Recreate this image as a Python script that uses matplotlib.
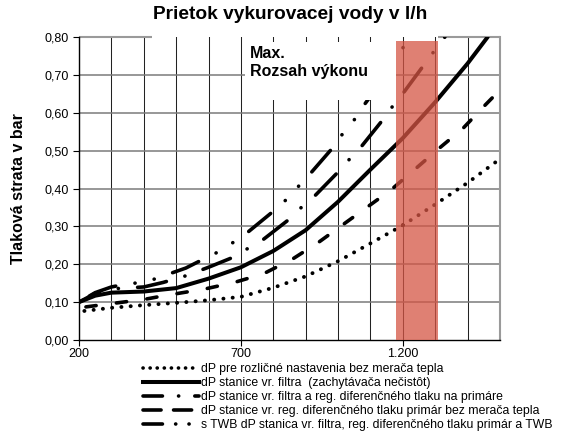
import numpy as np
import matplotlib
matplotlib.use('Agg')
import matplotlib.pyplot as plt
from matplotlib.lines import Line2D
from matplotlib.patches import Rectangle
from matplotlib.ticker import FuncFormatter, MultipleLocator

plt.rcParams['font.family'] = ['Liberation Sans', 'DejaVu Sans']
plt.rcParams['lines.scale_dashes'] = False

# flow (l/h) and pressure loss (bar) for each station variant
flow_meter = [200, 250, 300, 400, 500, 600, 700, 800, 900, 1000, 1100, 1200, 1300, 1400, 1500]
dp_meter = [0.075, 0.080, 0.085, 0.092, 0.098, 0.105, 0.114, 0.138, 0.168, 0.208, 0.255, 0.303, 0.358, 0.415, 0.478]

flow_filter = [200, 250, 300, 400, 500, 600, 700, 800, 900, 1000, 1100, 1200, 1300, 1400, 1462]
dp_filter = [0.100, 0.117, 0.125, 0.128, 0.137, 0.162, 0.192, 0.235, 0.290, 0.365, 0.450, 0.533, 0.628, 0.730, 0.800]

flow_filter_reg = [200, 250, 300, 400, 460, 528, 600, 675, 722, 770, 848, 889, 931, 1003, 1037,
                   1075, 1137, 1171, 1204, 1266, 1297, 1330]
dp_filter_reg = [0.100, 0.123, 0.135, 0.140, 0.152, 0.169, 0.192, 0.218, 0.242, 0.266, 0.318, 0.352, 0.383,
                 0.446, 0.479, 0.514, 0.580, 0.620, 0.655, 0.727, 0.763, 0.800]

flow_reg = [200, 290, 400, 470, 585, 680, 770, 860, 940, 1040, 1100, 1163, 1235, 1312, 1385, 1454, 1500]
dp_reg = [0.085, 0.095, 0.107, 0.118, 0.134, 0.152, 0.175, 0.214, 0.258, 0.320, 0.357, 0.396, 0.449, 0.506,
          0.558, 0.620, 0.660]

flow_twb = [200, 250, 300, 330, 380, 430, 480, 530, 574, 626, 675, 719, 796, 838, 877, 915, 982,
            1013, 1049, 1080, 1140, 1199, 1225]
dp_twb = [0.100, 0.125, 0.140, 0.145, 0.151, 0.160, 0.175, 0.190, 0.209, 0.231, 0.257, 0.283, 0.337,
          0.369, 0.405, 0.440, 0.506, 0.543, 0.580, 0.620, 0.690, 0.770, 0.800]

labels = [
    'dP pre rozličné nastavenia bez merača tepla',
    'dP stanice vr. filtra  (zachytávača nečistôt)',
    'dP stanice vr. filtra a reg. diferenčného tlaku na primáre',
    'dP stanice vr. reg. diferenčného tlaku primár bez merača tepla',
    's TWB dP stanica vr. filtra, reg. diferenčného tlaku primár a TWB',
]

x_ticks = [200, 700, 1200]
x_tick_labels = ['200', '700', '1.200']
range_start, range_end, range_top = 1180, 1310, 0.79

fig = plt.figure(figsize=(5.63, 4.33), dpi=100)
ax = fig.add_axes([0.1403, 0.2148, 0.7477, 0.6997])
ax.set_xlim(200, 1500)
ax.set_ylim(0, 0.8)


def phased(xs, ys, seq, anchor):
    # shift the dash pattern so that a period begins at flow == anchor
    pts = ax.transData.transform(np.column_stack([xs, ys])) * 72.0 / fig.dpi
    seg = np.hypot(*np.diff(pts, axis=0).T)
    length = 0.0
    for i in range(len(xs) - 1):
        if xs[i + 1] >= anchor:
            length += seg[i] * (anchor - xs[i]) / (xs[i + 1] - xs[i])
            break
        length += seg[i]
    return ((-length) % sum(seq), seq)


lw = 2.6
ax.plot(flow_meter, dp_meter, color='black', lw=2.8,
        linestyle=phased(flow_meter, dp_meter, (0.1, 6.6), 1200),
        dash_capstyle='round', zorder=3)
ax.plot(flow_filter, dp_filter, color='black', lw=2.9, solid_capstyle='round', zorder=3)
ax.plot(flow_filter_reg, dp_filter_reg, color='black', lw=lw,
        linestyle=phased(flow_filter_reg, dp_filter_reg, (21.2, 13.85, 0.1, 13.85), 1204),
        dash_capstyle='round', zorder=3)
ax.plot(flow_reg, dp_reg, color='black', lw=lw,
        linestyle=phased(flow_reg, dp_reg, (7.4, 14.7), 1316),
        dash_capstyle='round', zorder=3)
ax.plot(flow_twb, dp_twb, color='black', lw=lw,
        linestyle=phased(flow_twb, dp_twb, (20.4, 14.0, 0.1, 14.0, 0.1, 14.0), 919),
        dash_capstyle='round', zorder=3)

ax.xaxis.set_major_locator(plt.FixedLocator(x_ticks))
ax.xaxis.set_minor_locator(MultipleLocator(100))
ax.set_xticklabels(x_tick_labels)
ax.yaxis.set_major_locator(MultipleLocator(0.1))
ax.yaxis.set_major_formatter(FuncFormatter(lambda v, p: f'{v:.2f}'.replace('.', ',')))
ax.tick_params(axis='both', labelsize=9, length=4, width=0.8, direction='out', colors='black')
ax.tick_params(axis='x', which='minor', length=0)
ax.tick_params(axis='x', pad=2)

ax.grid(True, axis='x', which='both', color='#222222', lw=0.75, zorder=1)
for v in [0.1, 0.2, 0.3, 0.4, 0.5, 0.6, 0.7]:
    ax.axhline(v, color='#7a7a7a', lw=1.1, zorder=1)
ax.set_axisbelow(True)

# top border is only partly drawn
ax.hlines(0.8, 200, 426, color='#9a9a9a', lw=1.5, zorder=2, clip_on=False)
ax.hlines(0.8, 1308, 1500, color='#9a9a9a', lw=1.5, zorder=2, clip_on=False)
ax.spines['top'].set_visible(False)
ax.spines['right'].set_color('#9a9a9a')
ax.spines['right'].set_linewidth(1.5)
ax.spines['left'].set_linewidth(1.0)
ax.spines['bottom'].set_linewidth(1.0)

# label box for the operating range
ax.add_patch(Rectangle((714, 0.633), range_start - 714, 0.786 - 0.633,
                       facecolor='white', edgecolor='none', zorder=4))
ax.text(729, 0.776, 'Max.\nRozsah výkonu', fontsize=11.5, fontweight='bold',
        va='top', ha='left', linespacing=1.25, zorder=6)
ax.add_patch(Rectangle((range_start, 0), range_end - range_start, range_top,
                       facecolor='#D55544', edgecolor='none', alpha=0.75, zorder=5))

fig.text(0.515, 0.966, 'Prietok vykurovacej vody v l/h', fontsize=13.8, fontweight='bold',
         ha='center', va='center')
fig.text(0.032, 0.565, 'Tlaková strata v bar', fontsize=11.5, fontweight='bold',
         rotation=90, ha='center', va='center')

handles = [
    Line2D([], [], color='black', lw=2.6, linestyle=(0, (0.1, 5.0)), dash_capstyle='round'),
    Line2D([], [], color='black', lw=2.9),
    Line2D([], [], color='black', lw=lw, linestyle=(0, (14, 11.6, 0.1, 11.6)), dash_capstyle='round'),
    Line2D([], [], color='black', lw=lw, linestyle=(0, (13, 9)), dash_capstyle='round'),
    Line2D([], [], color='black', lw=lw, linestyle=(0, (14, 9.5, 0.1, 9.5, 0.1, 9.5)), dash_capstyle='round'),
]
fig.legend(handles, labels, loc='upper left', bbox_to_anchor=(0.254, 0.161), frameon=False,
           fontsize=8.8, handlelength=4.6, handletextpad=0.18, labelspacing=0.16,
           borderaxespad=0, borderpad=0)

fig.savefig('out.png', dpi=100)
